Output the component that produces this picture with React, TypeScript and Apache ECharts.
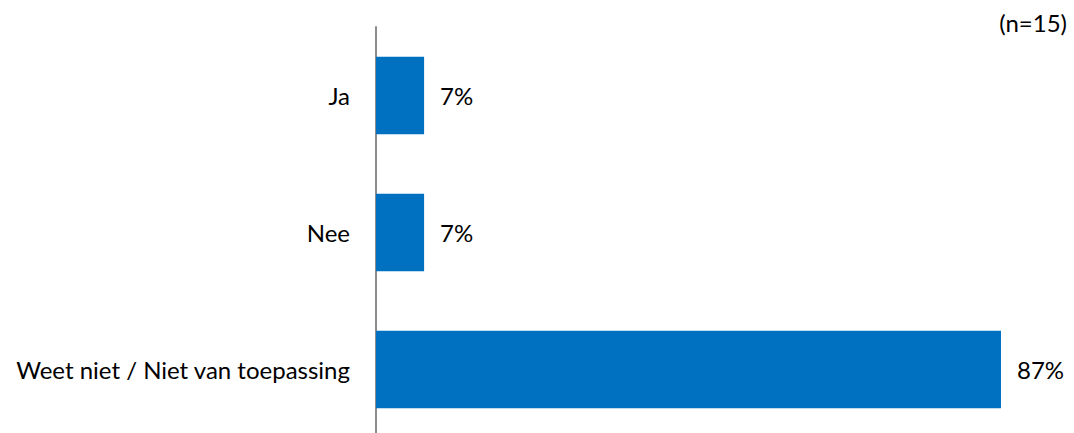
import React, { useEffect, useRef } from "react";
import * as echarts from "echarts";

const categories = ["Ja", "Nee", "Weet niet / Niet van toepassing"];
const values = [6.67, 6.67, 86.67];
const noteText = "(n=15)";

export default function App() {
  const ref = useRef<HTMLDivElement>(null);
  useEffect(() => {
    document.body.style.margin = "0";
    document.body.style.overflow = "hidden";
    document.documentElement.style.overflow = "hidden";
    const chart = echarts.init(ref.current!, null, { renderer: "svg" });
    const font = "Lato, 'Open Sans', sans-serif";
    chart.setOption({
      animation: false,
      grid: { left: 376, width: 649, top: 27, height: 411, containLabel: false, outerBoundsMode: "none" },
      xAxis: {
        type: "value",
        min: 0,
        max: 90,
        show: false,
        splitLine: { show: false },
      },
      yAxis: {
        type: "category",
        data: categories,
        inverse: true,
        axisLine: { show: true, lineStyle: { color: "#8c8c8c", width: 2 } },
        axisTick: { show: false },
        axisLabel: { margin: 26, fontSize: 24, color: "#000", fontFamily: font },
      },
      series: [
        {
          type: "bar",
          data: values,
          barCategoryGap: "43.6%",
          itemStyle: { color: "#0070C0" },
          label: {
            show: true,
            position: "right",
            distance: 16,
            fontSize: 24,
            color: "#000",
            fontFamily: font,
            formatter: (p: any) => Math.round(p.value) + "%",
          },
        },
      ],
      graphic: [
        {
          type: "text",
          right: 7,
          top: 10,
          style: { text: noteText, fontSize: 24, fill: "#000", fontFamily: font },
        },
      ],
    });
    return () => chart.dispose();
  }, []);
  return <div ref={ref} style={{ width: 1074, height: 445 }} />;
}
